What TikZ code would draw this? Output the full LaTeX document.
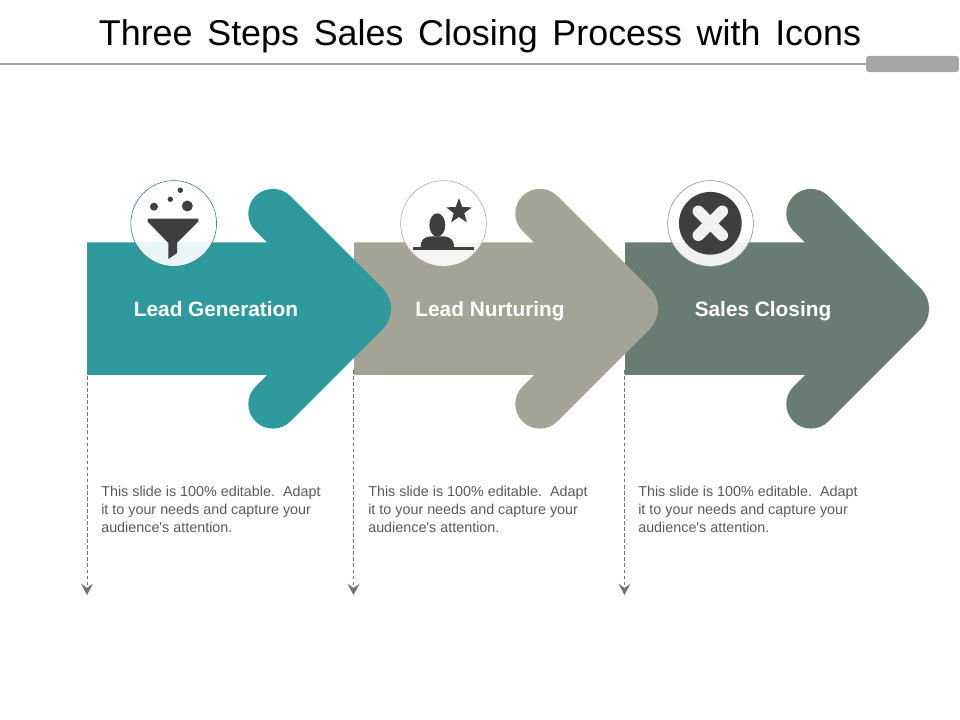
\documentclass[tikz,border=0pt]{standalone}
\usepackage{fontspec}
\setmainfont{Liberation Sans}
\newfontfamily\titrefont[WordSpace=1.48]{Liberation Sans}
\usepackage{tikz}
\usetikzlibrary{shapes.geometric}
\usetikzlibrary{arrows.meta}
\definecolor{tealc}{HTML}{2E9A9E}
\definecolor{stonec}{HTML}{A3A396}
\definecolor{slatec}{HTML}{697C74}
\definecolor{iconc}{HTML}{3F3F3F}
\definecolor{rulec}{HTML}{A6A6A6}
\tikzstyle{titre}=[text=black,font=\titrefont\fontsize{25.5}{30}\selectfont,inner sep=0pt,anchor=base]
\tikzstyle{etiquette}=[text=white,font=\fontsize{14.8}{17}\selectfont\bfseries,inner sep=0pt,anchor=base]
\tikzstyle{corps}=[text=black!65,font=\fontsize{10.2}{12.75}\selectfont,align=left,anchor=north west,inner sep=0pt]
\tikzstyle{rond}=[circle,minimum size=61pt,inner sep=0pt,fill=white,fill opacity=0.9,draw opacity=1,line width=0.4pt]
\tikzstyle{chute}=[-{Stealth[length=8pt,width=8.5pt,inset=3pt]},draw=black!55,line width=0.6pt,dash pattern=on 2.6pt off 1.7pt]
\newcommand{\bigarrow}[2]{
\fill[#2,shift={(#1,0)}] (87,242.5) -- (267,242.5) [rounded corners=0.62cm] -- (238,213.5) -- (272.9,178.6)
  [rounded corners=0.72cm] -- (403,308.75) [rounded corners=0.62cm] -- (272.9,438.9) -- (238,404)
  [sharp corners] -- (267,375) -- (87,375) -- cycle;
}
\begin{document}
\begin{tikzpicture}[x=0.025cm,y=-0.025cm]
\useasboundingbox (0,0) rectangle (960,720);
%Title
\node[titre] (title) at (480,46) {Three Steps Sales Closing Process with Icons};
\coordinate (rulestart) at (0,64);
\node[fill=rulec,rounded corners=2pt,minimum width=66pt,minimum height=11.5pt,inner sep=0pt] (tab) at (912.5,64) {};
\draw[rulec,line width=1pt] (rulestart) -- (tab);
%Drawing drops
\coordinate (top1) at (87,370);
\coordinate (top2) at (353.5,370);
\coordinate (top3) at (624.5,370);
\coordinate (end1) at (87,595);
\coordinate (end2) at (353.5,595);
\coordinate (end3) at (624.5,595);
\draw[chute] (top1) -- (end1);
\draw[chute] (top2) -- (end2);
\draw[chute] (top3) -- (end3);
%Drawing arrows
\bigarrow{538}{slatec}
\bigarrow{267}{stonec}
\bigarrow{0}{tealc}
%Labels
\node[etiquette] (lead) at (216,317) {Lead Generation};
\node[etiquette] (nurture) at (490,317) {Lead Nurturing};
\node[etiquette] (closing) at (763,317) {Sales Closing};
\node[corps] (texta) at (101,486) {This slide is 100\% editable.\ \ Adapt\\it to your needs and capture your\\audience\textquotesingle s attention.};
\node[corps] (textb) at (368,486) {This slide is 100\% editable.\ \ Adapt\\it to your needs and capture your\\audience\textquotesingle s attention.};
\node[corps] (textc) at (638,486) {This slide is 100\% editable.\ \ Adapt\\it to your needs and capture your\\audience\textquotesingle s attention.};
%Circles
\node[rond,draw=tealc!80!black] (circa) at (173.7,223.5) {};
\node[rond,draw=black!35] (circb) at (443.5,223.5) {};
\node[rond,draw=black!45] (circc) at (710.5,223.5) {};
%Funnel
\fill[iconc] (147.7,218.7) -- (198.3,218.7) -- (198.3,221.7) -- (177,243) -- (177,253) -- (168.3,259) -- (168.3,243) -- (147.7,221.7) -- cycle;
\fill[iconc] (154,206.7) circle (4);
\fill[iconc] (187.3,206) circle (5.5);
\fill[iconc] (170.3,199.3) circle (2.7);
\fill[iconc] (180.3,190.3) circle (2.7);
%Person
\node[star,star points=5,star point ratio=2.4,fill=iconc,minimum size=19pt,inner sep=0pt] (etoile) at (459,211.5) {};
\fill[iconc] (437.3,225) ellipse (8 and 11.7);
\fill[iconc] (420.7,247.5) .. controls (420.7,240) and (423,237.5) .. (430,236.5) -- (445,236.5) .. controls (451,237.5) and (454,240) .. (454,247.5) -- cycle;
\fill[iconc] (413,247) rectangle (474.3,249.7);
%Cross
\node[circle,fill=iconc,minimum size=44.6pt,inner sep=0pt] (croix) at (710.3,223.3) {};
\draw[white!95!black,line width=8.2pt,line cap=round] (698.3,211.3) -- (722.3,235.3);
\draw[white!95!black,line width=8.2pt,line cap=round] (722.3,211.3) -- (698.3,235.3);
\end{tikzpicture}
\end{document}
